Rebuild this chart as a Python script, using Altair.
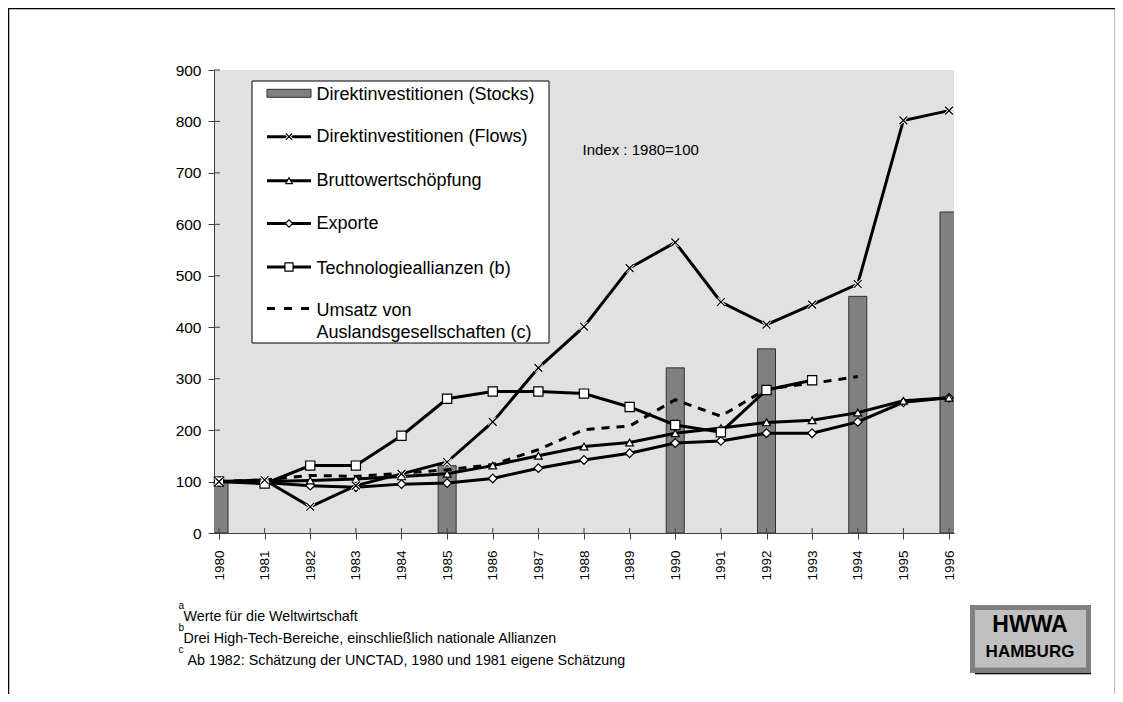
import altair as alt
import pandas as pd

# ---------------- data ----------------
YEARS = list(range(1980, 1997))
STOCK_YEARS = [1980, 1985, 1990, 1992, 1994, 1996]
STOCKS = [100, 131, 321, 358, 460, 624]
FLOWS = [100, 103, 51, 92, 115, 138, 216, 321, 401, 515, 565, 449, 405, 444, 484, 802, 821]
BRUTTO = [100, 100, 102, 105, 110, 115, 131, 150, 168, 176, 194, 204, 215, 219, 234, 257, 263]
EXPORTE = [100, 98, 92, 89, 95, 97, 106, 126, 142, 155, 175, 179, 194, 194, 216, 254, 263]
TECH = [100, 96, 131, 131, 189, 261, 275, 275, 271, 245, 210, 196, 278, 297, None, None, None]
UMSATZ = [100, 103, 112, 110, 116, 123, 133, 162, 201, 208, 259, 227, 280, 291, 304, None, None]

SERIES = [
    "Direktinvestitionen (Stocks)",
    "Direktinvestitionen (Flows)",
    "Bruttowertschöpfung",
    "Exporte",
    "Technologieallianzen (b)",
    ["Umsatz von", "Auslandsgesellschaften (c)"],
]
Y_TICKS = list(range(0, 901, 100))
INDEX_NOTE = "Index : 1980=100"
FOOT_MARKS = ["a", "b", "c"]
FOOT_TEXTS = [
    "Werte für die Weltwirtschaft",
    "Drei High-Tech-Bereiche, einschließlich nationale Allianzen",
    "Ab 1982: Schätzung der UNCTAD, 1980 und 1981 eigene Schätzung",
]
LOGO = ["HWWA", "HAMBURG"]

# ---------------- layout / style ----------------
W, H = 740, 463
FONT = "Liberation Sans"
X_SHAPE = "M-1,-1L1,1M-1,1L1,-1"

xs = alt.Scale(domain=[1980, 1996], nice=False, zero=False)
ys = alt.Scale(domain=[0, 900], nice=False, zero=True)
X_ENC = alt.X("year:Q", scale=xs,
              axis=alt.Axis(values=YEARS, format="d", labelAngle=-90, title=None, grid=False,
                            labelFontSize=13.5, labelPadding=11, tickSize=6))
Y_ENC = alt.Y("value:Q", scale=ys,
              axis=alt.Axis(values=Y_TICKS, title=None, grid=False, labelFontSize=15.5,
                            labelPadding=7, tickSize=6))

one = pd.DataFrame({"k": [0]})


def series_df(vals):
    df = pd.DataFrame({"year": YEARS, "value": vals}).dropna()
    return df


layers = []

# bars
bars_df = pd.DataFrame({"year": STOCK_YEARS, "value": STOCKS})
layers.append(
    alt.Chart(bars_df).mark_bar(size=18, clip=True, color="#808080", stroke="#303030", strokeWidth=1)
    .encode(x=X_ENC, y=Y_ENC)
)

# inner tick halves
layers.append(
    alt.Chart(pd.DataFrame({"value": Y_TICKS})).mark_rule(color="#404040", strokeWidth=1)
    .encode(y=Y_ENC, x=alt.value(0), x2=alt.value(6))
)
layers.append(
    alt.Chart(pd.DataFrame({"year": YEARS})).mark_rule(color="#404040", strokeWidth=1)
    .encode(x=X_ENC, y=alt.value(H - 5), y2=alt.value(H))
)

line_specs = [
    (UMSATZ, None, [8, 7]),
    (EXPORTE, "diamond", None),
    (BRUTTO, "triangle-up", None),
    (TECH, "square", None),
    (FLOWS, X_SHAPE, None),
]
for vals, shape, dash in line_specs:
    df = series_df(vals)
    kw = dict(color="black", strokeWidth=3, clip=True)
    if dash:
        kw["strokeDash"] = dash
    layers.append(alt.Chart(df).mark_line(**kw).encode(x=X_ENC, y=Y_ENC))
for vals, shape, dash in line_specs:
    if shape is None:
        continue
    df = series_df(vals)
    if shape == X_SHAPE:
        layers.append(
            alt.Chart(df).mark_point(shape=shape, filled=False, stroke="white", strokeWidth=3,
                                     size=60, opacity=1).encode(x=X_ENC, y=Y_ENC)
        )
        m = alt.Chart(df).mark_point(shape=shape, filled=False, stroke="black", strokeWidth=1.3,
                                     size=60, opacity=1)
    else:
        size = {"diamond": 75, "triangle-up": 60, "square": 85}[shape]
        m = alt.Chart(df).mark_point(shape=shape, filled=True, fill="white", stroke="black",
                                     strokeWidth=1.2, size=size, opacity=1)
    layers.append(m.encode(x=X_ENC, y=Y_ENC))

# index note
layers.append(
    alt.Chart(one).mark_text(align="left", baseline="middle", fontSize=15, font=FONT, color="black")
    .encode(x=alt.value(368.5), y=alt.value(80), text=alt.value(INDEX_NOTE))
)

# legend box
LX0, LY0, LX1, LY1 = 38, 11, 335, 273
layers.append(
    alt.Chart(one).mark_rect(fill="white", stroke="black", strokeWidth=1)
    .encode(x=alt.value(LX0), x2=alt.value(LX1), y=alt.value(LY0), y2=alt.value(LY1))
)
SYM_X0, SYM_X1, SYM_XC, TXT_X = 53, 97, 75, 102.5
sym_y = [23.3, 66.7, 110.7, 153.5, 197, 238.5]
txt_y = [25, 67.3, 110.7, 154, 199.3, 232]
layers.append(
    alt.Chart(one).mark_rect(fill="#808080", stroke="#303030", strokeWidth=1)
    .encode(x=alt.value(SYM_X0), x2=alt.value(SYM_X1), y=alt.value(sym_y[0] - 4), y2=alt.value(sym_y[0] + 4))
)
leg_shapes = [X_SHAPE, "triangle-up", "diamond", "square"]
for i, shp in enumerate(leg_shapes, start=1):
    layers.append(
        alt.Chart(one).mark_rule(color="black", strokeWidth=3)
        .encode(x=alt.value(SYM_X0), x2=alt.value(SYM_X1), y=alt.value(sym_y[i]))
    )
    if shp == X_SHAPE:
        layers.append(
            alt.Chart(one).mark_point(shape=shp, filled=False, stroke="white", strokeWidth=3, size=40, opacity=1)
            .encode(x=alt.value(SYM_XC), y=alt.value(sym_y[i]))
        )
        pm = alt.Chart(one).mark_point(shape=shp, filled=False, stroke="black", strokeWidth=1.2, size=40, opacity=1)
    else:
        pm = alt.Chart(one).mark_point(shape=shp, filled=True, fill="white", stroke="black", strokeWidth=1.2,
                                       size={"diamond": 55, "triangle-up": 45, "square": 65}[shp], opacity=1)
    layers.append(pm.encode(x=alt.value(SYM_XC), y=alt.value(sym_y[i])))
layers.append(
    alt.Chart(one).mark_rule(color="black", strokeWidth=3, strokeDash=[8, 9])
    .encode(x=alt.value(SYM_X0), x2=alt.value(SYM_X1 + 4), y=alt.value(sym_y[5]))
)
for i, lab in enumerate(SERIES):
    base = "middle" if i < 5 else "top"
    layers.append(
        alt.Chart(one).mark_text(align="left", baseline=base, fontSize=18, font=FONT, color="black",
                                 lineHeight=22)
        .encode(x=alt.value(TXT_X), y=alt.value(txt_y[i] if i < 5 else 232), text=alt.value(lab))
    )

# footnotes
for i, (mk, tx) in enumerate(zip(FOOT_MARKS, FOOT_TEXTS)):
    yy = 547.3 + 22 * i
    layers.append(
        alt.Chart(one).mark_text(align="left", baseline="middle", fontSize=10, font=FONT, color="black")
        .encode(x=alt.value(-35.5), y=alt.value(yy - 11), text=alt.value(mk))
    )
    layers.append(
        alt.Chart(one).mark_text(align="left", baseline="middle", fontSize=14.3, font=FONT, color="black")
        .encode(x=alt.value(-30.5 if i < 2 else -26.5), y=alt.value(yy), text=alt.value(tx))
    )

# logo box
layers.append(
    alt.Chart(one).mark_rule(color="black", strokeWidth=1.5)
    .encode(x=alt.value(761), x2=alt.value(877), y=alt.value(603.5))
)
layers.append(
    alt.Chart(one).mark_rect(fill="#808080")
    .encode(x=alt.value(756), x2=alt.value(877), y=alt.value(535), y2=alt.value(603))
)
layers.append(
    alt.Chart(one).mark_rect(fill="#c0c0c0")
    .encode(x=alt.value(761), x2=alt.value(872), y=alt.value(540), y2=alt.value(597.5))
)
layers.append(
    alt.Chart(one).mark_text(align="center", baseline="middle", fontSize=23, fontWeight="bold", font=FONT,
                             color="black")
    .encode(x=alt.value(816), y=alt.value(555), text=alt.value(LOGO[0]))
)
layers.append(
    alt.Chart(one).mark_text(align="center", baseline="middle", fontSize=17, fontWeight="bold", font=FONT,
                             color="black")
    .encode(x=alt.value(816), y=alt.value(581.5), text=alt.value(LOGO[1]))
)

# page frame (left, top, right)
layers.append(
    alt.Chart(one).mark_rule(color="black", strokeWidth=1.5)
    .encode(x=alt.value(-205.5), x2=alt.value(901.5), y=alt.value(-61.5))
)
layers.append(
    alt.Chart(one).mark_rule(color="black", strokeWidth=1.5)
    .encode(x=alt.value(-205.5), y=alt.value(-62), y2=alt.value(624))
)
layers.append(
    alt.Chart(one).mark_rule(color="black", strokeWidth=1.5)
    .encode(x=alt.value(901.5), y=alt.value(-62), y2=alt.value(624))
)

chart = alt.layer(*layers).properties(
    width=W, height=H,
    padding={"left": 206, "top": 62, "right": 161, "bottom": 161},
    autosize=alt.AutoSizeParams(type="none"),
    background="white",
).configure_view(
    fill="#e1e1e1", stroke=None
).configure_axis(
    domainColor="#404040", tickColor="#404040", labelColor="black", labelFont=FONT,
    domainWidth=1, tickWidth=1,
).configure_text(font=FONT)

chart.save("out.html", embed_options={"renderer": "svg", "actions": False})
